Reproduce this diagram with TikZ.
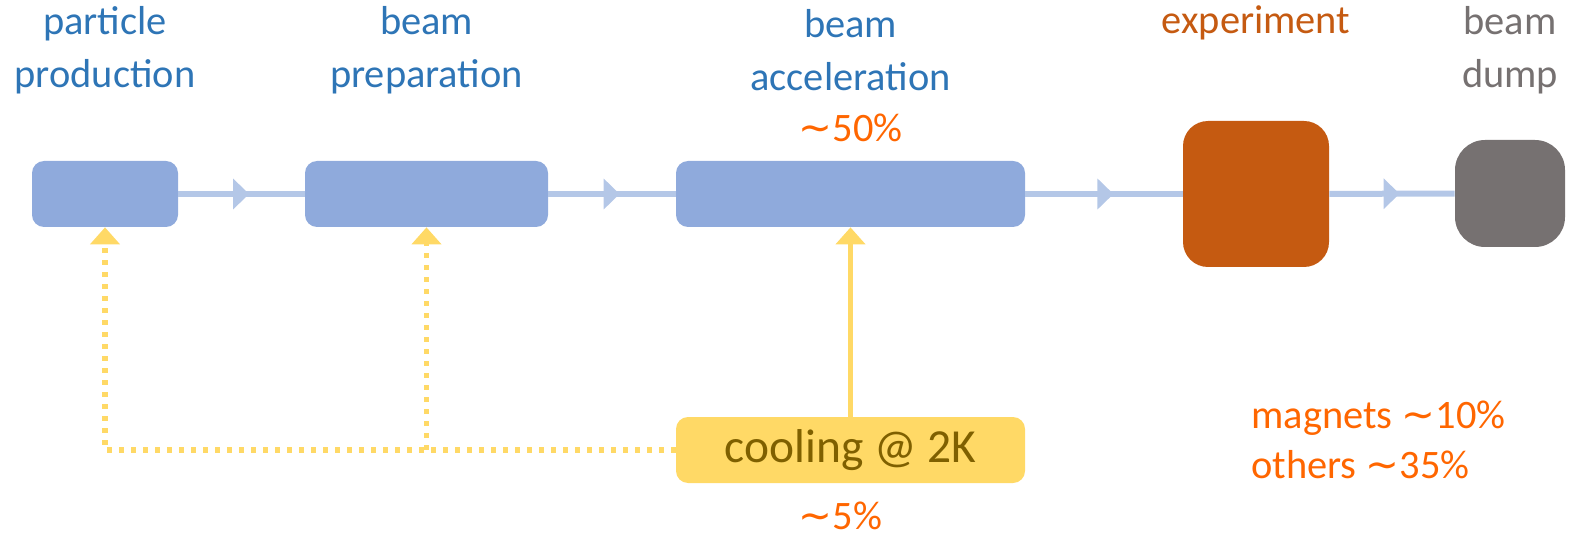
\documentclass[tikz,border=0pt]{standalone}
\usepackage{fontspec}
\setmainfont{Carlito}
\newfontfamily\symf{DejaVu Sans}
\usetikzlibrary{arrows.meta,decorations.markings,positioning}
\definecolor{boxblue}{HTML}{8FAADC}
\definecolor{flowblue}{HTML}{B4C7E7}
\definecolor{txtblue}{HTML}{2E75B6}
\definecolor{exporange}{HTML}{C55A11}
\definecolor{dumpgray}{HTML}{767171}
\definecolor{coolyellow}{HTML}{FFD966}
\definecolor{cooltext}{HTML}{7F6000}
\definecolor{pcorange}{HTML}{FF6600}
\newcommand{\apx}{{\symf ∼}}

\begin{document}
\begin{tikzpicture}[
    stagebox/.style={fill=boxblue, rounded corners=0.24cm,
                     minimum height=1.32cm, inner sep=0pt},
    stagelabel/.style={font=\fontsize{23}{30}\selectfont, align=center, inner sep=0pt},
    pctlabel/.style={font=\fontsize{23}{25}\selectfont, text=pcorange, inner sep=0pt},
    flow/.style={line width=0.12cm, draw=flowblue, postaction={decorate},
                 decoration={markings, mark=at position 0.56 with
                   {\arrow[flowblue]{Triangle[length=0.32cm,width=0.6cm]}}}},
    coolline/.style={line width=0.1cm, draw=coolyellow,
                     -{Triangle[length=0.34cm,width=0.58cm,fill=coolyellow]}},
    cooldots/.style={coolline, line width=0.11cm, dash pattern=on 0.1cm off 0.14cm}
]
\useasboundingbox (0,0) rectangle (31.38,10.82);

% --- STAGES ---
\node[stagebox, minimum width=2.92cm] (prod) at (2.10,6.94) {};
\node[stagebox, minimum width=4.86cm] (prep) at (8.53,6.94) {};
\node[stagebox, minimum width=6.98cm] (accel) at (17.01,6.94) {};
\node[fill=exporange, rounded corners=0.5cm, minimum width=2.92cm,
      minimum height=2.92cm, inner sep=0pt] (exp) at (25.12,6.94) {};
\node[fill=dumpgray, rounded corners=0.6cm, minimum width=2.2cm,
      minimum height=2.14cm, inner sep=0pt] (dump) at (30.20,6.95) {};

% --- LABELS ---
\node[stagelabel, text=txtblue] (lblprod) at (2.10,9.82) {particle\\production};
\node[stagelabel, text=txtblue] (lblprep) at (8.53,9.82) {beam\\preparation};
\node[stagelabel, text=txtblue] (lblaccel) at (17.01,9.82) {beam\\acceleration};
\node[stagelabel, text=exporange] (lblexp) at (25.12,10.36) {experiment};
\node[stagelabel, text=dumpgray] (lbldump) at (30.20,9.82) {beam\\dump};
\node[pctlabel] (pcaccel) at (17.01,8.26) {\apx50\%};

% FLOW
\draw[flow] (prod) -- (prep);
\draw[flow] (prep) -- (accel);
\draw[flow] (accel) -- (exp);
\draw[flow] (exp) -- (dump);

% --- COOLING ---
\node[fill=coolyellow, rounded corners=0.24cm, minimum width=6.98cm,
      minimum height=1.32cm, inner sep=0pt, text=cooltext,
      font=\fontsize{27}{30}\selectfont] (cooling) at (17.01,1.82) {cooling @ 2K};
\node[pctlabel] (pccool) at (16.81,0.50) {\apx5\%};
\coordinate (split) at (prep.south |- cooling.west);
\draw[coolline] (cooling) -- (accel);
\draw[cooldots] (cooling.west) -| (prod.south);
\draw[cooldots] (split) -- (prep.south);

% OTHERS
\node[pctlabel, anchor=west, align=left, font=\fontsize{23}{28.5}\selectfont]
  (pcother) at (25.02,2.02) {magnets \apx10\%\\others \apx35\%};

\end{tikzpicture}
\end{document}
